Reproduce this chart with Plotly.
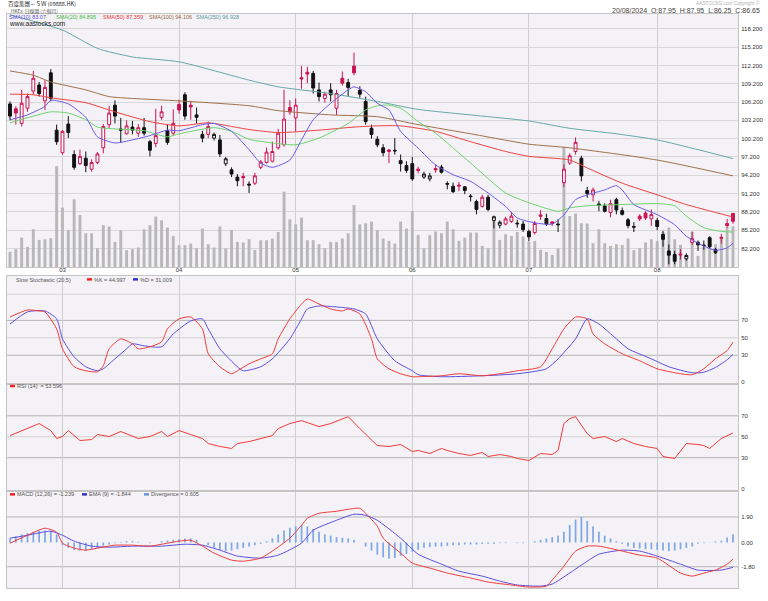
import plotly.graph_objects as go

# ---------------- data ----------------
OPEN = [105.9,105.1,102.7,105.2,108.0,109.0,106.4,111.0,101.6,97.9,
        102.6,97.6,96.1,97.0,95.2,96.3,98.7,102.5,105.7,101.8,
        101.0,102.1,101.1,102.0,99.7,99.4,103.7,101.5,101.1,105.8,
        107.4,105.7,104.1,100.9,100.9,100.3,100.0,96.1,95.1,93.9,
        94.0,92.75,92.9,95.5,96.3,96.5,98.7,99.2,105.3,103.6,
        110.2,111.1,110.9,108.2,106.8,108.2,105.2,110.1,109.4,112.1,
        108.1,106.3,101.9,100.1,98.7,98.1,98.3,96.6,95.8,96.1,
        95.2,93.9,93.6,95.3,95.55,92.85,92.4,92.6,92.3,90.8,
        89.9,89.1,90.6,86.8,86.0,86.2,86.6,86.35,86.2,85.0,
        84.8,87.7,87.1,86.55,86.2,93.0,96.2,98.1,97.0,91.7,
        91.0,89.5,89.2,88.1,90.2,88.4,86.9,85.8,87.5,88.0,
        87.05,86.8,84.5,81.8,81.2,81.3,80.5,83.2,83.2,82.75,
        83.95,82.0,84.0,86.3,87.95]
HIGH = [106.3,105.5,108.2,107.6,111.3,109.5,109.8,111.6,102.5,101.6,
        103.9,98.3,98.4,98.1,96.8,98.0,102.6,105.6,106.5,103.6,
        103.2,103.1,102.6,103.6,100.0,105.1,105.6,102.5,105.0,106.6,
        107.8,106.4,105.3,101.5,103.0,101.2,100.8,97.2,95.5,94.4,
        94.6,93.2,94.6,96.7,98.75,99.7,101.8,108.2,106.5,106.8,
        112.1,112.0,111.3,109.4,107.9,109.3,108.2,111.2,110.0,114.3,
        108.8,107.1,102.5,100.6,99.3,98.5,100.3,97.6,96.5,97.2,
        95.6,94.8,94.6,96.0,95.9,93.2,93.0,93.1,92.4,91.1,
        90.2,91.0,91.0,87.6,86.8,87.4,88.2,86.9,86.7,85.3,
        86.7,88.5,87.9,86.7,87.0,96.0,97.8,100.4,97.4,92.3,
        92.2,90.0,89.6,90.2,90.5,88.9,87.2,86.5,87.8,88.3,
        88.6,87.2,85.1,82.85,81.8,82.1,81.4,85.0,83.5,83.5,
        84.2,82.3,84.6,87.05,87.95]
LOW = [103.2,102.5,102.2,104.6,107.4,107.1,104.9,106.3,99.2,97.6,
       100.3,95.1,95.9,94.7,94.8,96.0,97.8,101.9,102.7,99.5,
       100.9,100.9,100.5,100.7,97.3,98.8,103.3,99.2,100.7,104.3,
       103.3,103.3,102.7,99.6,100.3,99.9,97.2,95.7,93.9,92.4,
       92.4,91.3,92.6,95.2,96.1,96.3,98.4,98.9,104.1,101.4,
       108.4,109.3,107.6,106.3,106.1,106.3,104.1,108.9,107.1,110.6,
       106.9,102.5,100.2,98.8,97.3,96.2,97.6,94.8,94.6,93.3,
       94.5,93.6,93.2,94.6,94.5,91.9,91.3,91.6,91.1,89.9,
       87.8,88.9,88.3,85.5,85.5,86.0,86.4,85.6,84.9,83.4,
       84.5,86.9,85.9,85.9,84.9,92.3,95.9,97.6,93.2,90.5,
       89.9,88.3,88.1,87.3,87.8,87.6,85.5,84.9,86.7,86.9,
       85.9,85.2,82.5,79.6,79.6,80.4,80.2,82.8,81.8,82.0,
       82.3,81.3,83.0,85.6,86.25]
CLOSE = [103.9,104.4,106.0,107.1,110.1,107.6,108.6,106.8,99.7,101.4,
         101.2,95.5,97.3,95.8,96.3,97.7,102.2,104.4,103.9,101.6,
         102.3,101.6,102.0,101.1,98.3,100.7,104.6,99.6,102.7,104.9,
         103.9,105.4,103.7,100.3,102.2,100.9,97.7,96.9,94.4,93.3,
         93.8,92.6,94.1,96.4,98.0,98.1,101.1,103.4,104.6,105.7,
         110.0,110.8,108.5,107.1,107.5,107.4,107.6,109.3,108.6,111.0,
         107.5,103.0,100.9,99.2,97.9,98.35,98.2,96.1,95.0,93.6,
         95.0,94.4,94.1,95.1,94.7,92.75,91.5,92.45,91.7,90.7,
         88.6,90.6,88.6,87.4,86.5,87.05,87.5,86.25,85.3,84.1,
         86.3,87.5,86.2,86.3,86.1,95.2,97.4,99.6,94.1,91.2,
         91.8,89.3,88.3,89.55,88.5,87.8,85.95,85.7,87.05,87.2,
         87.75,85.8,83.7,81.1,80.1,81.15,81.05,83.8,82.8,82.7,
         82.5,81.5,83.9,85.95,86.65]
VOLUME = [1.53,1.8,2.97,2.03,3.8,2.73,2.8,2.9,10.13,5.97,3.73,6.8,5.23,3.4,3.4,1.9,4.2,4.07,2.53,3.7,
          1.7,1.8,1.97,3.8,4.2,5.07,4.7,3.97,3.13,
          2.2,2.2,2.37,1.9,3.87,2.3,1.97,4.07,1.87,3.73,2.53,2.47,2.8,1.73,2.7,2.7,2.87,3.53,7.57,4.8,4.3,
          4.97,2.7,2.7,2.3,1.9,2.53,2.53,2.87,3.4,6.23,4.3,4.4,4.57,3.7,
          2.87,2.63,2.37,4.57,3.87,5.63,3.23,1.9,3.2,3.57,3.4,4.57,3.8,2.63,2.97,3.47,3.47,2.13,1.9,5.07,
          2.73,3.3,3.13,3.53,3.07,2.53,2.63,1.73,1.53,1.23,1.87,12.07,
          5.13,5.37,4.4,4.37,2.4,3.8,2.4,2.13,2.3,2.23,2.87,1.7,1.9,2.47,2.8,2.63,3.53,3.97,2.8,2.23,
          1.13,3.53,1.13,1.97,3.07,2.3,3.07,4.0,4.1]

MONTH_POS = [9, 29, 49, 69, 89, 111]
MONTH_LBL = ["03", "04", "05", "06", "07", "08"]
PRICE_TICKS = [82.2, 85.2, 88.2, 91.2, 94.2, 97.2, 100.2, 103.2, 106.2, 109.2, 112.2, 115.2, 118.2]

SMA10_I = [0,3,6,7,10,13,15,18,21,24,27,29,33,35,38,41,43,45,48,50,52,55,58,59,61,63,65,67,70,73,76,79,82,85,87,90,93,95,97,99,102,104,105,107,111,114,116,119,121,123,124]
SMA10_V = [103.3,104.1,105.5,106.5,105.9,103.7,100.5,99.5,100.0,100.7,101.6,101.5,102.5,102.7,101.4,98.4,96.2,95.5,96.7,100.0,103.3,106.0,108.2,108.7,107.9,106.0,104.9,101.4,98.65,95.9,94.3,93.2,91.3,89.1,87.2,86.4,86.2,87.7,90.2,91.0,91.8,92.5,91.8,89.4,87.75,86.1,84.2,82.6,81.9,82.3,83.07]
SMA20_I = [0,4,7,10,13,15,18,23,27,29,35,38,41,45,49,53,58,61,63,65,67,70,73,79,85,89,94,96,99,105,111,114,116,119,122,124]
SMA20_V = [102.8,103.9,104.6,104.4,103.3,102.1,101.8,101.5,100.5,101.0,102.0,101.4,100.1,99.5,99.2,100.3,102.7,104.9,105.6,105.7,105.2,103.0,101.1,96.2,91.3,89.7,88.3,88.85,89.2,89.4,89.55,89.2,87.5,85.6,85.0,84.895]
SMA50_I = [0,4,7,13,18,24,29,34,38,41,46,53,59,63,67,73,79,85,89,96,99,105,111,116,124]
SMA50_V = [107.5,107.4,106.9,106.1,104.6,103.0,102.3,102.8,102.2,101.7,101.2,101.6,102.1,102.3,102.3,101.4,99.7,98.1,97.3,96.7,95.4,92.9,91.0,89.4,87.359]
SMA100_I = [0,4,7,13,17,21,29,41,46,55,63,70,79,89,96,111,124]
SMA100_V = [111.3,110.6,109.5,108.2,107.1,106.8,106.4,105.6,104.8,104.1,103.8,102.5,101.0,99.3,98.7,96.7,94.106]
SMA250_I = [0,9,15,21,29,41,46,55,63,70,80,89,96,104,111,118,124]
SMA250_V = [120.5,118.0,115.0,113.6,112.8,109.8,108.7,107.6,106.3,105.0,104.0,103.1,101.9,101.0,100.0,98.4,96.928]

STOCHK_I = [0,3,5,6,8,9,11,13,15,16,17,19,21,22,24,26,27,29,31,33,34,36,38,39,41,43,45,46,48,50,51,53,55,57,58,60,62,63,65,67,69,70,74,77,81,84,87,91,93,95,97,99,100,102,105,108,111,115,117,119,121,123,124]
STOCHK_V = [73.9,81.9,80.8,79.7,60.2,37.4,16.8,12.2,11.1,18.0,37.4,48.8,43.1,37.4,39.7,45.4,60.2,71.7,73.9,60.2,31.7,16.8,8.8,12.2,20.2,25.9,31.7,48.8,71.7,88.8,94.5,88.8,83.1,80.8,83.1,77.4,48.8,25.9,14.5,8.8,5.4,5.4,6.5,8.8,6.5,8.8,12.2,16.8,37.4,60.2,73.9,71.7,54.5,43.1,31.7,23.7,14.5,8.8,7.7,14.5,26.0,35.5,44.997]
STOCHD_I = [0,3,6,8,9,11,13,15,16,18,20,21,23,26,28,31,33,34,36,39,40,43,45,48,50,51,53,56,59,61,63,66,69,70,74,81,87,92,94,97,99,101,104,106,110,113,117,119,121,123,124]
STOCHD_V = [65.9,79.7,80.8,71.7,48.8,28.2,16.8,12.2,14.5,25.9,37.4,43.1,40.8,39.7,54.5,69.4,71.7,60.2,37.4,16.8,12.2,16.8,25.9,48.8,71.7,83.1,86.5,85.4,83.1,77.4,48.8,23.7,12.2,7.7,5.4,6.5,8.8,14.5,25.9,48.8,71.7,65.9,48.8,37.4,25.9,16.8,9.9,10.5,16.0,24.8,31.009]

RSI_I = [0,2,3,5,7,8,9,10,12,14,15,17,19,21,22,24,26,27,29,31,33,34,36,38,39,41,43,45,46,48,50,51,53,55,57,58,60,62,63,65,67,69,70,72,74,75,77,79,81,82,84,86,87,89,91,93,94,95,96,97,99,100,102,104,105,107,109,111,112,114,116,118,119,120,122,124]
RSI_V = [51.1,55.9,57.8,62.6,55.9,48.3,50.2,55.9,46.4,47.3,52.1,50.2,55.0,50.2,48.3,50.2,55.0,50.2,55.9,52.1,48.3,43.5,40.7,38.8,43.5,45.4,48.3,51.1,57.8,62.6,65.4,63.5,59.7,62.6,67.3,69.2,57.8,46.4,41.6,40.7,42.6,35.9,36.9,34.0,38.8,36.9,34.0,32.1,35.0,31.1,33.0,31.1,29.2,27.3,34.0,33.0,36.9,62.6,67.3,69.2,53.0,48.3,50.2,45.4,48.3,43.5,40.7,38.8,31.1,29.2,43.5,42.6,41.6,38.8,48.3,53.596]

MACD_I = [0,3,6,8,9,11,13,15,18,21,24,27,29,31,33,35,38,40,43,45,48,50,51,53,56,58,60,61,63,64,67,69,72,75,79,82,86,89,92,93,95,97,99,101,105,108,111,115,117,119,121,123,124]
MACD_V = [-0.05,0.54,1.06,0.76,-0.05,-0.42,-0.57,-0.42,-0.2,-0.2,-0.27,-0.05,0.1,0.17,-0.27,-0.79,-1.31,-1.39,-1.16,-0.64,0.32,1.28,1.8,2.17,2.32,2.47,2.54,2.17,1.21,0.32,-0.79,-1.53,-1.9,-2.27,-2.64,-2.94,-3.16,-3.31,-3.24,-2.79,-1.76,-0.64,-0.27,-0.27,-0.64,-0.94,-1.16,-2.27,-2.5,-2.27,-2.05,-1.61,-1.239]
EMA_I = [0,3,7,9,11,14,17,21,26,30,33,36,39,43,46,50,52,56,59,61,63,67,70,74,77,81,84,87,91,93,96,99,101,105,108,111,115,118,122,124]
EMA_V = [0.32,0.54,0.84,0.54,0.1,-0.27,-0.35,-0.27,-0.27,-0.13,-0.2,-0.57,-1.01,-1.16,-0.94,-0.05,0.91,1.65,2.1,2.02,1.65,0.32,-0.87,-1.61,-2.13,-2.5,-2.87,-3.16,-3.24,-3.09,-2.27,-1.39,-0.87,-0.57,-0.64,-1.01,-1.61,-2.05,-2.05,-1.844]
DIVERGENCE = [0.3,0.45,0.6,0.7,0.8,0.85,0.9,0.85,0.6,
              -0.2,-0.4,-0.55,-0.6,-0.6,-0.5,-0.4,
              -0.25,-0.15,-0.05,0.05,0.1,0.1,0.05,0.0,-0.05,0.0,0.1,0.15,0.2,0.25,0.3,
              0.3,0.2,0.0,-0.2,-0.4,-0.55,-0.65,-0.6,-0.5,-0.4,-0.3,-0.2,-0.1,0.1,
              0.3,0.6,0.9,1.1,1.2,1.3,1.2,1.0,0.8,0.6,0.5,0.4,0.35,
              0.3,0.2,0.0,-0.3,-0.6,-0.9,-1.1,-1.2,-1.15,-1.0,-0.85,-0.7,-0.55,
              -0.4,-0.35,-0.3,-0.3,-0.25,-0.2,-0.2,-0.15,-0.15,-0.15,-0.1,-0.1,-0.1,-0.05,-0.05,0.0,-0.05,-0.05,0.0,0.1,0.2,0.3,0.4,0.5,
              0.8,1.3,1.7,1.9,1.6,
              1.2,0.8,0.5,0.3,0.1,-0.1,
              -0.3,-0.4,-0.45,-0.5,-0.5,-0.55,-0.6,-0.65,-0.6,-0.5,-0.4,-0.3,
              -0.1,-0.05,0.02,0.08,0.12,0.37,0.605]

# ---------------- geometry helpers ----------------
W, H = 768, 601
def fx(px):
    return px / W
def fy(py):
    return 1 - py / H

X0, X1 = 7, 738
XR = [-0.514, 124.86]
P_PRICE = (14, 268)
P_STO = (277, 384)
P_RSI = (386, 492)
P_MACD = (494, 590)

N = len(CLOSE)
IDX = list(range(N))

BLACK = "#111111"
RED = "#cc1452"
SMA_COL = {"10": "#6a5ae8", "20": "#6fd36f", "50": "#f04040", "100": "#a0704a", "250": "#6aa7a8"}
FONT = "Liberation Sans, Arial, sans-serif"
CJK = "Noto Sans CJK TC, sans-serif"

fig = go.Figure()

# volume (base axis of the price panel so it sits behind the candles)
fig.add_trace(go.Bar(x=IDX, y=VOLUME, marker_color="#b8b8b8", marker_line_width=0,
                     width=0.5, xaxis="x", yaxis="y", hoverinfo="skip"))

# moving averages
for key, xi, yv in [("250", SMA250_I, SMA250_V), ("100", SMA100_I, SMA100_V),
                    ("50", SMA50_I, SMA50_V), ("20", SMA20_I, SMA20_V), ("10", SMA10_I, SMA10_V)]:
    fig.add_trace(go.Scatter(x=xi, y=yv, mode="lines", line=dict(color=SMA_COL[key], width=1, shape="spline", smoothing=0.6),
                             xaxis="x", yaxis="y2", hoverinfo="skip"))

# candles split in four styles: colour vs previous close, hollow vs filled
groups = {}
for i in IDX:
    prev = CLOSE[i - 1] if i > 0 else OPEN[i]
    col = RED if CLOSE[i] >= prev else BLACK
    hollow = CLOSE[i] >= OPEN[i]
    groups.setdefault((col, hollow), []).append(i)
for (col, hollow), ids in groups.items():
    fill = "#ffffff" if hollow else col
    style = dict(line=dict(color=col, width=1), fillcolor=fill)
    fig.add_trace(go.Candlestick(x=ids, open=[OPEN[i] for i in ids], high=[HIGH[i] for i in ids],
                                 low=[LOW[i] for i in ids], close=[CLOSE[i] for i in ids],
                                 increasing=style, decreasing=style, whiskerwidth=0,
                                 xaxis="x", yaxis="y2", hoverinfo="skip"))

# stochastic
fig.add_trace(go.Scatter(x=STOCHD_I, y=STOCHD_V, mode="lines", line=dict(color="#5a4ee0", width=1, shape="spline", smoothing=0.6), xaxis="x2", yaxis="y3"))
fig.add_trace(go.Scatter(x=STOCHK_I, y=STOCHK_V, mode="lines", line=dict(color="#f03a3a", width=1, shape="spline", smoothing=0.6), xaxis="x2", yaxis="y3"))
# RSI
fig.add_trace(go.Scatter(x=RSI_I, y=RSI_V, mode="lines", line=dict(color="#f03a3a", width=1), xaxis="x3", yaxis="y4"))
# MACD
fig.add_trace(go.Bar(x=IDX, y=DIVERGENCE, marker_color="#7fa8e6", marker_line_width=0, width=0.3, xaxis="x4", yaxis="y5"))
fig.add_trace(go.Scatter(x=EMA_I, y=EMA_V, mode="lines", line=dict(color="#5a4ee0", width=1, shape="spline", smoothing=0.6), xaxis="x4", yaxis="y5"))
fig.add_trace(go.Scatter(x=MACD_I, y=MACD_V, mode="lines", line=dict(color="#f03a3a", width=1, shape="spline", smoothing=0.6), xaxis="x4", yaxis="y5"))

BORDER = "#c4c4c4"
def xaxis_cfg(anchor, labels):
    return dict(domain=[fx(X0), fx(X1)], anchor=anchor, range=XR, tickvals=MONTH_POS,
                ticktext=MONTH_LBL, showticklabels=labels, showgrid=True, gridcolor="#cfcfcf",
                gridwidth=1, zeroline=False, showline=True, mirror=True, linecolor=BORDER,
                ticks="", ticklabelstandoff=-3, tickfont=dict(family=FONT, size=6, color="#333"), fixedrange=True,
                rangeslider=dict(visible=False))

def yaxis_cfg(panel, rng, vals, text, grid=False, gridcolor="#d8d8d8"):
    return dict(domain=[fy(panel[1]), fy(panel[0])], range=rng, side="right", tickvals=vals,
                ticktext=text, showgrid=grid, gridcolor=gridcolor, zeroline=False,
                showline=True, mirror=True, linecolor=BORDER, ticks="", ticklabelstandoff=1,
                tickfont=dict(family=FONT, size=6, color="#333"), fixedrange=True)

# ranges chosen so that data values fall at the reference pixel rows
price_rng = [82.2 - (268 - 249.3) / 6.12, 82.2 + (249.3 - 14) / 6.12]
sto_rng = [-(384 - 382.7) / 0.875, (382.7 - 277) / 0.875]
rsi_rng = [-(492 - 490.7) / 1.05, (490.7 - 386) / 1.05]
macd_rng = [-(590 - 544.3) / 13.5, (544.3 - 494) / 13.5]

layout = dict(
    width=W, height=H, margin=dict(l=0, r=0, t=0, b=0),
    paper_bgcolor="#ffffff", plot_bgcolor="#f4f2f6", showlegend=False, barmode="overlay",
    hovermode=False,
    xaxis=xaxis_cfg("y", True),
    xaxis2=xaxis_cfg("y3", False),
    xaxis3=xaxis_cfg("y4", False),
    xaxis4=xaxis_cfg("y5", False),
    yaxis=dict(domain=[fy(P_PRICE[1]), fy(P_PRICE[0])], range=[0, 25.4], showticklabels=False,
               showgrid=False, zeroline=False, showline=True, mirror=True, linecolor=BORDER, fixedrange=True),
    yaxis2=yaxis_cfg(P_PRICE, price_rng, PRICE_TICKS, ["%.3f" % v for v in PRICE_TICKS], grid=True),
    yaxis3=yaxis_cfg(P_STO, sto_rng, [0, 30, 50, 70], ["0", "30", "50", "70"]),
    yaxis4=yaxis_cfg(P_RSI, rsi_rng, [0, 30, 50, 70], ["0", "30", "50", "70"]),
    yaxis5=yaxis_cfg(P_MACD, macd_rng, [-1.8, 0, 1.9], ["-1.80", "0.00", "1.90"]),
)
layout["yaxis2"]["overlaying"] = "y"
layout["yaxis2"]["anchor"] = "x"
layout["yaxis3"]["anchor"] = "x2"
layout["yaxis4"]["anchor"] = "x3"
layout["yaxis5"]["anchor"] = "x4"
fig.update_layout(**layout)

# horizontal reference lines in indicator panels
shapes = []
def hline(yref, y, color):
    shapes.append(dict(type="line", xref="paper", yref=yref, x0=fx(X0), x1=fx(X1), y0=y, y1=y,
                       line=dict(color=color, width=1), layer="below"))
for yref in ["y3", "y4"]:
    hline(yref, 30, "#b4b4b4")
    hline(yref, 70, "#b4b4b4")
    hline(yref, 50, "#d2d2d2")
hline("y3", 100, "#d6d6d6")
hline("y5", 1.9, "#b4b4b4")
hline("y5", -1.8, "#b4b4b4")

# legend colour chips
def chip(px, py, color, w=5, h=2.5):
    shapes.append(dict(type="rect", xref="paper", yref="paper", x0=fx(px), x1=fx(px + w),
                       y0=fy(py + h / 2), y1=fy(py - h / 2), fillcolor=color, line=dict(width=0)))
chip(87, 280.3, "#ee2222")
chip(133, 280.3, "#3333cc")
chip(10, 387.3, "#ee2222")
chip(10, 496.0, "#ee2222")
chip(82, 496.0, "#3333cc")
chip(144, 496.0, "#6699dd")
fig.update_layout(shapes=shapes)

ann = []
def text(px, py, s, size=5.5, color="#444", anchor="left", family=FONT):
    ann.append(dict(x=fx(px), y=fy(py), xref="paper", yref="paper", text=s, showarrow=False,
                    xanchor=anchor, yanchor="middle", borderpad=0, font=dict(family=family, size=size, color=color)))

text(7, 4.0, "百度集團－ＳＷ (09888.HK)", size=5.5, color="#222", family=CJK)
text(10, 11.3, "HKEx  日線圖 (六個月)", size=4.8, color="#555", family=CJK)
text(8, 16.9, "SMA(10) 83.07", color="#5a4ee0")
text(55, 16.9, "SMA(20) 84.895", color="#44bb44")
text(102, 16.9, "SMA(50) 87.359", color="#ee3333")
text(148, 16.9, "SMA(100) 94.106", color="#9a6a44")
text(195, 16.9, "SMA(250) 96.928", color="#5a9a9a")
text(8, 23.6, "www.aastocks.com", size=6.5, color="#222")
text(761, 3.0, "AASTOCKS.com Copyright ©", size=4.8, color="#b0b0b0", anchor="right")
text(761, 10.5, "20/08/2024  O:87.95  H:87.95  L:86.25  C:86.65", size=7, color="#444", anchor="right")
text(15, 280.5, "Slow Stochastic (20,5)", color="#555")
text(93, 280.5, "%K = 44.997", color="#555")
text(139, 280.5, "%D = 31.009", color="#555")
text(15.5, 387.5, "RSI (14)  = 53.596", color="#555")
text(15.5, 496, "MACD (12,26) = -1.239", color="#555")
text(87.5, 496, "EMA (9) = -1.844", color="#555")
text(150, 496, "Divergence = 0.605", color="#555")
fig.update_layout(annotations=ann)

fig.write_html("out.html", config={"displayModeBar": False, "staticPlot": True},
               post_script="document.body.style.margin='0';")
